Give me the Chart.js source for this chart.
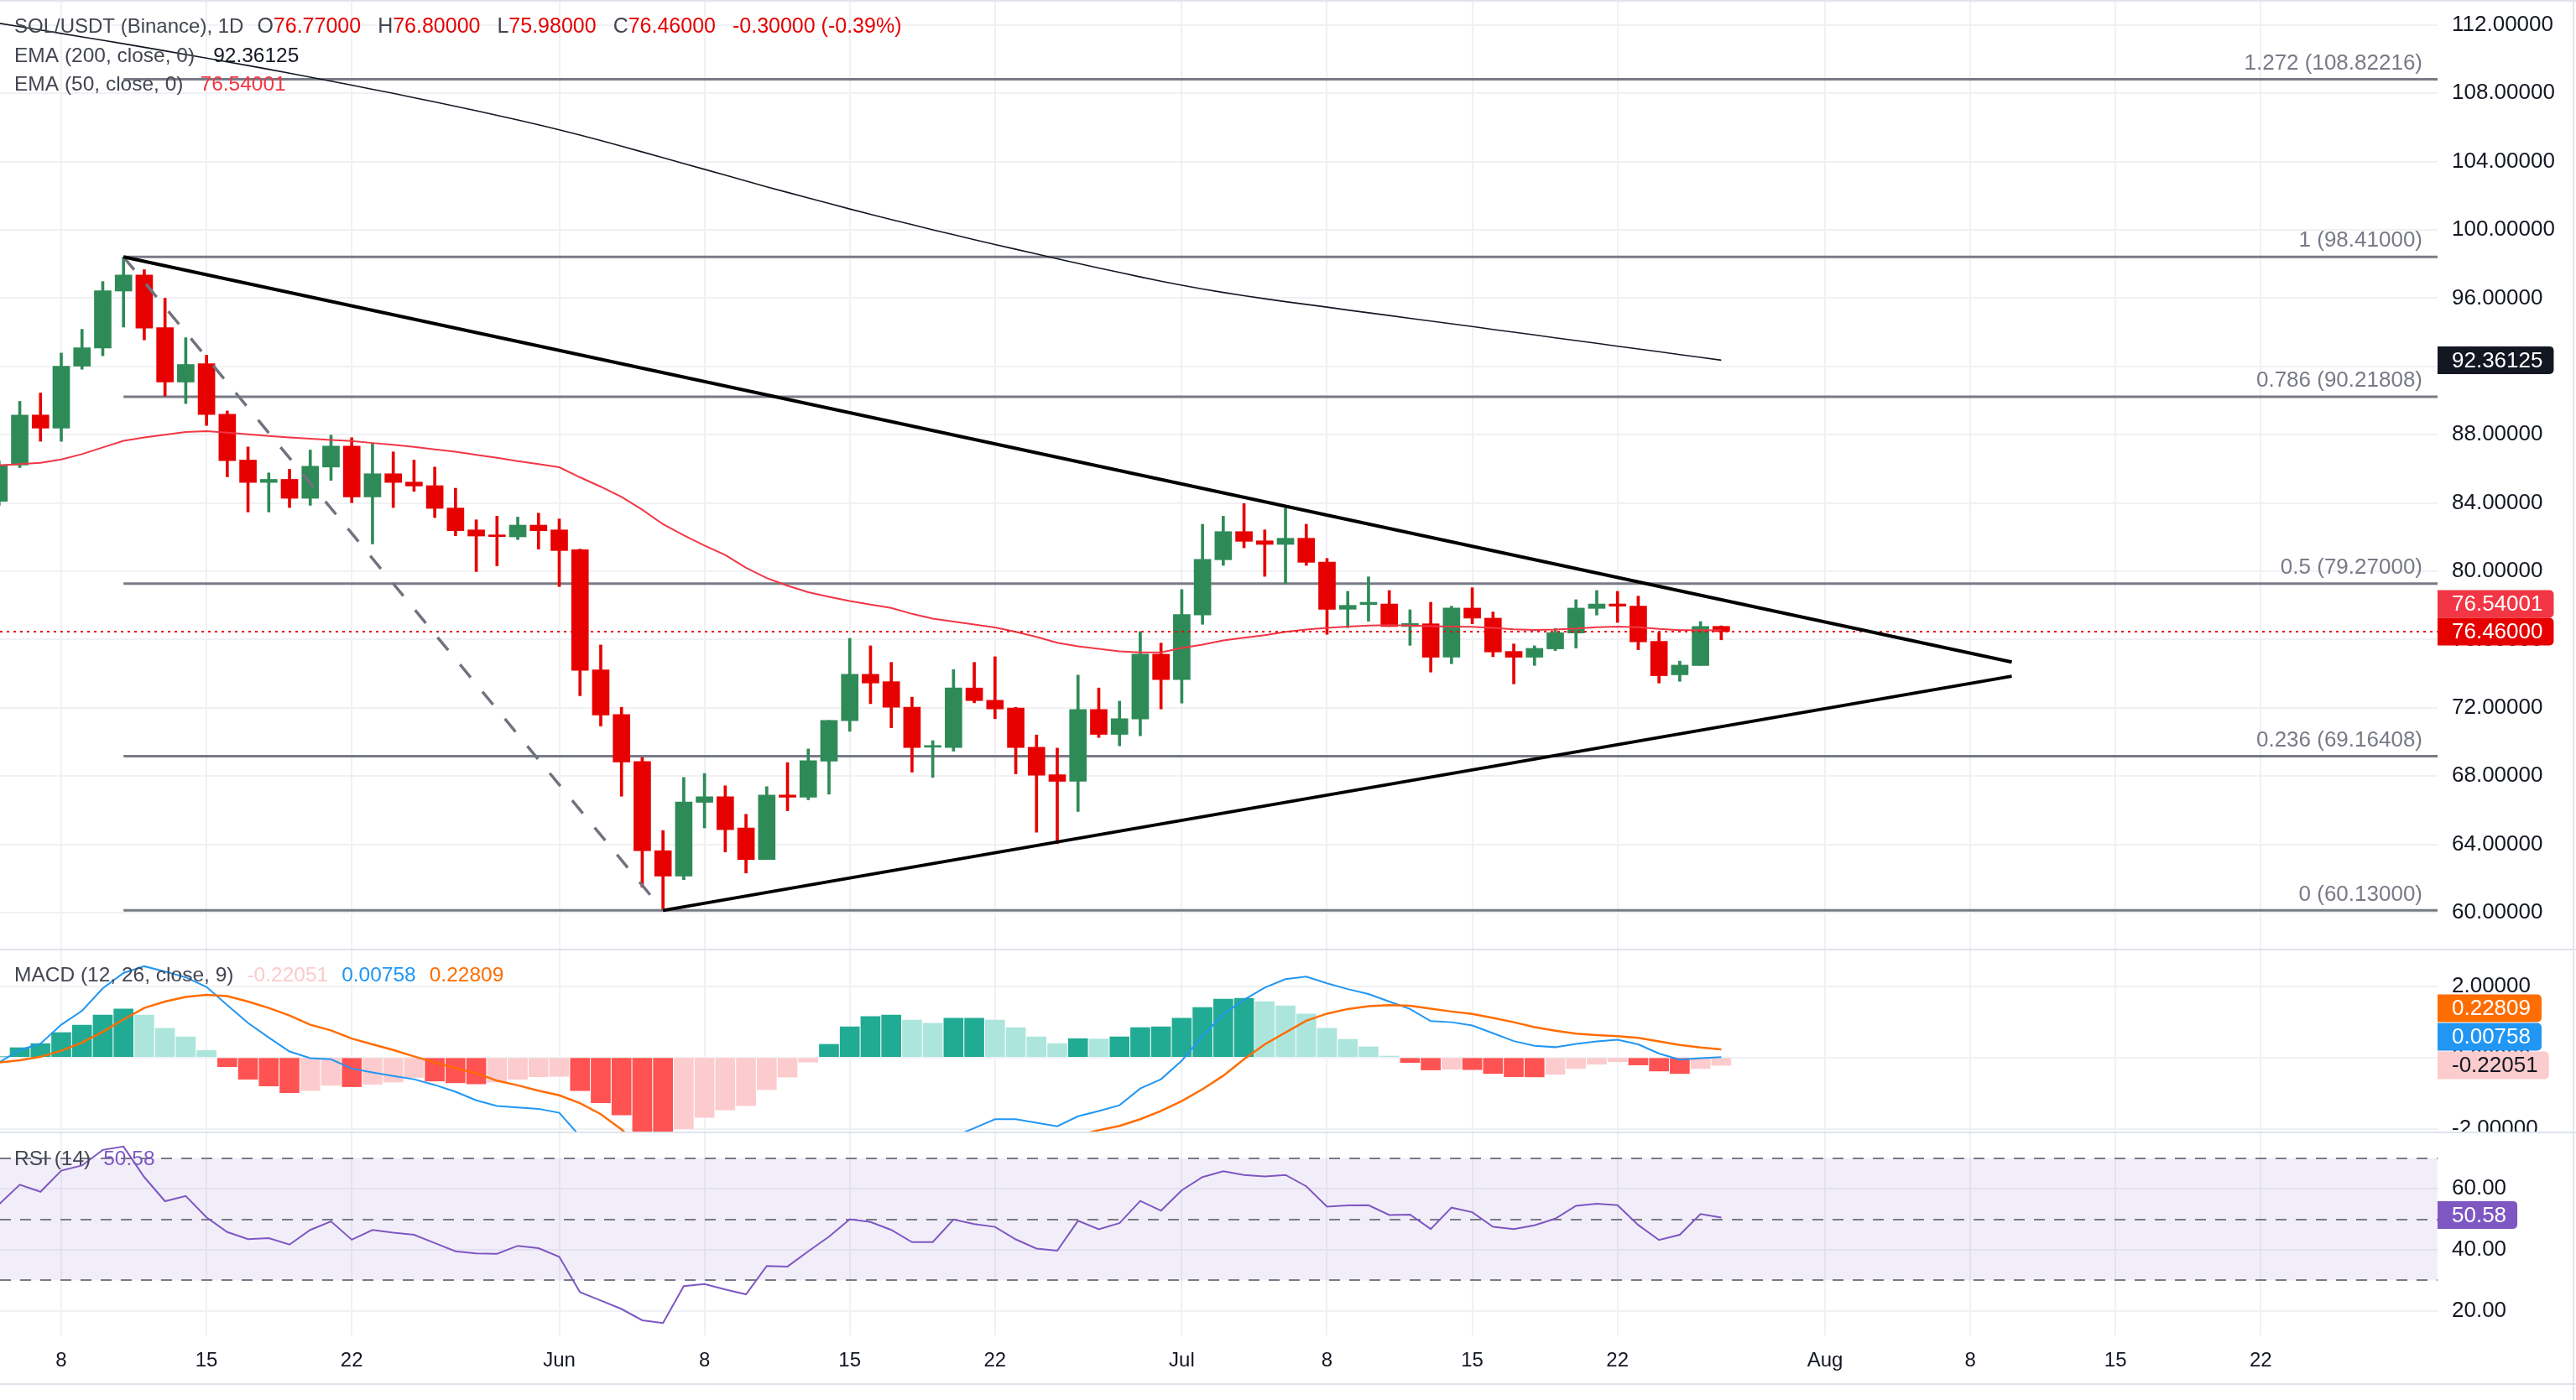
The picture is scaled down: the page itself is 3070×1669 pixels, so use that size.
<!DOCTYPE html>
<html>
<head>
<meta charset="utf-8">
<title>SOL/USDT 1D</title>
<script src="https://cdn.jsdelivr.net/npm/chart.js@4.4.1/dist/chart.umd.min.js"></script>
<style>
  html, body { margin: 0; padding: 0; background: #fff; }
  #wrap { position: relative; width: 3070px; height: 1669px; overflow: hidden; background: #fff; }
  #wrap canvas { position: absolute; left: 0; }
</style>
</head>
<body>
<div id="wrap">
  <canvas id="pricePane" width="3070" height="1131" style="top:0"></canvas>
  <canvas id="macdPane" width="3070" height="218" style="top:1131px"></canvas>
  <canvas id="rsiPane" width="3070" height="320" style="top:1349px"></canvas>
</div>
<script>
// ---- values (May 5 - Jul 27) ----
const dates = [
  '2024-05-05','2024-05-06','2024-05-07','2024-05-08','2024-05-09','2024-05-10','2024-05-11','2024-05-12',
  '2024-05-13','2024-05-14','2024-05-15','2024-05-16','2024-05-17','2024-05-18','2024-05-19','2024-05-20',
  '2024-05-21','2024-05-22','2024-05-23','2024-05-24','2024-05-25','2024-05-26','2024-05-27','2024-05-28',
  '2024-05-29','2024-05-30','2024-05-31','2024-06-01','2024-06-02','2024-06-03','2024-06-04','2024-06-05',
  '2024-06-06','2024-06-07','2024-06-08','2024-06-09','2024-06-10','2024-06-11','2024-06-12','2024-06-13',
  '2024-06-14','2024-06-15','2024-06-16','2024-06-17','2024-06-18','2024-06-19','2024-06-20','2024-06-21',
  '2024-06-22','2024-06-23','2024-06-24','2024-06-25','2024-06-26','2024-06-27','2024-06-28','2024-06-29',
  '2024-06-30','2024-07-01','2024-07-02','2024-07-03','2024-07-04','2024-07-05','2024-07-06','2024-07-07',
  '2024-07-08','2024-07-09','2024-07-10','2024-07-11','2024-07-12','2024-07-13','2024-07-14','2024-07-15',
  '2024-07-16','2024-07-17','2024-07-18','2024-07-19','2024-07-20','2024-07-21','2024-07-22','2024-07-23',
  '2024-07-24','2024-07-25','2024-07-26','2024-07-27'
];
const opens = [
  84.09,86.22,89.15,88.38,92.01,93.07,96.41,97.35,94.27,91.08,92.16,89.20,86.51,85.20,85.38,84.27,
  86.10,87.33,84.35,85.71,85.22,85.01,83.70,82.42,82.11,82.01,82.70,82.42,81.26,74.22,71.60,68.85,
  63.63,62.14,66.46,66.79,64.96,63.11,66.89,66.76,68.87,71.24,73.96,73.53,72.03,69.69,69.67,73.16,
  72.44,71.98,69.69,68.08,67.69,71.90,70.44,71.34,75.14,73.65,77.43,80.67,82.32,81.78,81.57,81.93,
  80.54,77.77,78.05,78.08,76.76,76.92,74.96,77.84,77.25,75.30,74.96,75.45,76.38,77.82,78.08,77.95,
  75.89,73.93,74.48,76.77
];
const highs = [
  86.45,89.95,90.44,92.78,94.17,96.97,98.41,97.66,95.99,93.68,92.65,89.39,87.28,85.76,85.97,87.10,
  87.97,87.82,87.48,86.99,86.51,86.10,84.86,83.01,83.22,83.17,83.40,83.06,81.30,75.68,72.03,69.08,
  64.81,67.92,68.15,67.43,65.76,67.38,68.79,69.59,71.26,76.07,75.63,74.66,72.62,70.08,74.24,74.66,
  74.99,72.03,70.41,69.64,73.91,73.16,72.39,76.46,75.79,78.92,82.75,83.22,83.96,82.42,83.70,82.75,
  80.75,78.82,79.67,78.87,77.74,78.18,77.95,79.03,77.61,75.74,75.63,76.64,78.33,78.87,78.82,78.54,
  76.40,74.73,77.05,76.80
];
const lows = [
  83.85,86.07,87.61,87.61,91.83,92.62,94.30,93.55,90.26,89.82,88.54,85.53,83.47,83.47,83.73,83.86,
  85.32,84.01,81.60,83.73,84.68,83.14,82.08,79.98,80.31,81.85,81.29,79.10,72.70,70.93,66.82,61.49,
  60.13,61.93,64.96,63.55,62.32,63.11,65.97,66.61,66.94,70.62,72.24,70.83,68.23,67.92,69.46,72.29,
  71.36,68.13,64.71,64.04,65.92,70.26,69.77,70.36,71.93,72.27,76.89,80.34,81.37,79.70,79.26,80.34,
  76.30,76.69,77.07,76.76,75.66,74.09,74.58,76.92,74.99,73.40,74.48,75.35,75.50,77.43,77.00,75.40,
  73.45,73.55,74.48,75.98
];
const closes = [
  86.24,89.15,88.38,92.01,93.09,96.43,97.35,94.24,91.08,92.11,89.18,86.48,85.20,85.38,84.27,86.15,
  87.33,84.35,85.71,85.20,84.99,83.68,82.37,82.06,82.03,82.70,82.37,81.21,74.19,71.57,68.82,63.63,
  62.14,66.48,66.79,64.86,63.11,66.89,66.76,68.90,71.26,73.96,73.45,72.03,69.67,69.77,73.16,72.42,
  71.93,69.67,68.05,67.69,71.90,70.44,71.36,75.14,73.65,77.46,80.70,82.32,81.75,81.57,81.93,80.52,
  77.77,78.00,78.18,76.76,76.94,74.96,77.84,77.25,75.27,74.96,75.48,76.40,77.84,78.08,77.95,75.86,
  73.88,74.50,76.76,76.46
];
const ema200 = [
  112.10,111.90,111.70,111.50,111.30,111.10,110.90,110.69,110.48,110.27,110.06,109.84,109.62,109.40,
  109.17,108.94,108.71,108.47,108.23,107.99,107.74,107.49,107.23,106.97,106.70,106.43,106.15,
  105.86,105.55,105.23,104.90,104.56,104.22,103.88,103.54,103.20,102.86,102.52,102.19,101.86,101.54,
  101.22,100.91,100.60,100.30,100.00,99.71,99.42,99.14,98.86,98.58,98.30,98.03,97.76,97.50,97.24,96.99,
  96.75,96.53,96.33,96.14,95.96,95.79,95.63,95.47,95.30,95.14,94.98,94.81,94.65,94.49,94.33,94.16,
  94.00,93.84,93.67,93.51,93.35,93.18,93.02,92.86,92.69,92.53,92.36125
];
const ema50 = [
  86.20,86.28,86.35,86.55,86.86,87.25,87.64,87.84,88.00,88.15,88.20,88.12,88.02,87.92,87.84,87.76,
  87.69,87.63,87.51,87.40,87.28,87.14,87.00,86.82,86.64,86.45,86.27,
  86.09,85.50,84.95,84.35,83.60,82.75,82.10,81.50,80.95,80.20,79.60,79.15,78.77,78.50,78.25,78.05,
  77.85,77.50,77.22,77.05,76.88,76.71,76.45,76.15,75.81,75.60,75.45,75.30,75.25,75.24,
  75.50,75.70,75.94,76.10,76.25,76.45,76.58,76.68,76.75,76.82,76.84,76.82,76.78,76.76,76.74,76.68,
  76.60,76.56,76.58,76.65,76.72,76.76,76.72,76.62,76.55,76.55,76.54001
];
const macdHist = [
  0.02,0.275,0.39,0.70,0.91,1.19,1.36,1.19,0.82,0.58,0.20,-0.26,-0.61,-0.80,-0.99,-0.93,
  -0.78,-0.82,-0.75,-0.69,-0.56,-0.66,-0.71,-0.74,-0.69,-0.61,-0.54,-0.53,-0.93,-1.27,-1.61,-2.20,
  -2.30,-2.00,-1.68,-1.47,-1.35,-0.90,-0.55,-0.13,0.37,0.86,1.15,1.19,1.05,0.96,1.10,1.10,
  1.05,0.84,0.58,0.39,0.53,0.52,0.58,0.84,0.86,1.10,1.40,1.64,1.66,1.57,1.45,1.22,
  0.82,0.51,0.30,0.04,-0.14,-0.35,-0.33,-0.34,-0.45,-0.54,-0.545,-0.47,-0.31,-0.19,-0.12,-0.21,
  -0.38,-0.45,-0.31,-0.22051
];
const macdLine = [
  -0.14,0.21,0.39,0.92,1.31,1.94,2.37,2.56,2.41,2.25,1.98,1.47,0.97,0.56,0.17,-0.02,
  -0.05,-0.31,-0.42,-0.52,-0.61,-0.77,-0.96,-1.20,-1.36,-1.40,-1.44,-1.55,-2.21,-2.86,-3.63,-4.75,
  -5.40,-5.55,-5.63,-5.77,-5.95,-5.70,-5.45,-5.08,-4.51,-3.82,-3.25,-2.91,-2.77,-2.62,-2.22,-1.98,
  -1.73,-1.73,-1.83,-1.93,-1.65,-1.50,-1.34,-0.87,-0.61,-0.09,0.60,1.21,1.62,1.96,2.20,2.27,
  2.08,1.92,1.78,1.57,1.36,1.02,0.99,0.90,0.68,0.46,0.33,0.29,0.38,0.45,0.50,0.37,
  0.11,-0.06,-0.02,0.00758
];
const macdSignal = [
  -0.14,-0.08,0.02,0.19,0.42,0.72,1.07,1.39,1.57,1.70,1.76,1.72,1.57,1.39,1.18,0.92,
  0.76,0.53,0.37,0.21,0.03,-0.14,-0.30,-0.44,-0.65,-0.78,-0.93,-1.06,-1.28,-1.59,-2.02,-2.55,
  -3.10,-3.55,-3.95,-4.30,-4.60,-4.80,-4.90,-4.95,-4.88,-4.68,-4.40,-4.10,-3.82,-3.58,-3.32,-3.06,
  -2.78,-2.57,-2.41,-2.32,-2.18,-2.04,-1.92,-1.73,-1.50,-1.22,-0.89,-0.51,-0.05,0.37,0.70,1.03,
  1.23,1.36,1.44,1.47,1.45,1.37,1.29,1.22,1.11,0.99,0.85,0.75,0.67,0.63,0.60,0.55,
  0.45,0.35,0.28,0.22809
];
const rsi14 = [
  54.9,61.3,59.0,65.9,67.6,72.7,73.8,63.8,55.9,57.6,50.6,45.8,43.5,43.8,41.7,46.5,
  49.3,43.3,46.5,45.6,44.9,42.2,39.5,38.8,38.7,41.3,40.5,37.7,26.1,23.4,20.6,16.9,
  16.0,28.1,28.8,27.0,25.4,34.7,34.5,39.5,44.3,50.0,49.1,46.5,42.5,42.5,49.9,48.4,
  47.5,43.4,40.4,39.7,49.5,46.7,48.7,56.0,52.8,59.5,63.8,65.7,64.5,64.0,64.5,60.8,
  54.1,54.5,54.6,51.4,51.5,46.8,53.8,52.3,47.5,46.8,48.0,50.2,54.4,55.1,54.6,48.1,
  43.2,44.9,51.7,50.58
];

// fibonacci retracement drawn from the May 11 high to the Jun 6 low
const fibRatios = [1.272, 1, 0.786, 0.5, 0.236, 0];
const fibPrices = [108.82216, 98.41, 90.21808, 79.27, 69.16408, 60.13];
const fibSwing = [['2024-05-11', 98.41], ['2024-06-06', 60.13]];
// symmetrical triangle
const upperTrend = [['2024-05-11', 98.41], ['2024-08-10', 74.68]];
const lowerTrend = [['2024-06-06', 60.13], ['2024-08-10', 73.85]];

// axis ticks
const priceTicks = [60, 64, 68, 72, 76, 80, 84, 88, 92, 96, 100, 104, 108, 112];
const macdTicks = [-2, 0, 2];
const rsiTicks = [20, 40, 60];
const rsiBands = [70, 50, 30];
const xTickDates = ['2024-05-08','2024-05-15','2024-05-22','2024-06-01','2024-06-08','2024-06-15','2024-06-22',
  '2024-07-01','2024-07-08','2024-07-15','2024-07-22','2024-08-01','2024-08-08','2024-08-15','2024-08-22'];
const xTickLabels = ['8','15','22','Jun','8','15','22','Jul','8','15','22','Aug','8','15','22'];

// ---- styling ----
const FONT = "'Liberation Sans', Arial, sans-serif";
const UP = '#2E8B57', DOWN = '#E60000';
const EMA50_C = '#F23645', EMA200_C = '#131722';
const FIB_C = '#787B86', GRID = '#F0F1F4', SEP = '#E0E3EB';
const TEXT = '#131722', LEGEND = '#434651';
const X_MIN = -2.952, X_MAX = 114.52;   // visible window, days from May 8
const AXIS_W = 165;

function dayNum(iso) {
  const [y, m, d] = iso.split('-').map(Number);
  return (Date.UTC(y, m - 1, d) - Date.UTC(2024, 4, 8)) / 86400000;
}
const xs = dates.map(dayNum);
const last = dates.length - 1;

function xAxis(showLabels) {
  return {
    type: 'linear', min: X_MIN, max: X_MAX, offset: false,
    grid: { color: GRID, lineWidth: 2, drawTicks: false, offset: false },
    border: { display: false },
    afterBuildTicks: s => { s.ticks = xTickDates.map(d => ({ value: dayNum(d) })); },
    afterFit: s => { s.height = showLabels ? 77 : 0; s.paddingLeft = 0; s.paddingRight = 0; },
    ticks: {
      display: showLabels, autoSkip: false, maxRotation: 0, padding: 16, color: TEXT,
      font: { family: FONT, size: 24 },
      callback: (v, i) => xTickLabels[i]
    }
  };
}
function yAxis(min, max, ticks, digits) {
  return {
    type: 'linear', position: 'right', min, max, beginAtZero: false,
    grid: { color: GRID, lineWidth: 2, drawTicks: false },
    border: { display: false },
    afterBuildTicks: s => { s.ticks = ticks.map(v => ({ value: v })); },
    afterFit: s => { s.width = AXIS_W; s.paddingTop = 0; s.paddingBottom = 0; },
    ticks: { padding: 17, color: TEXT, font: { family: FONT, size: 26 }, callback: v => v.toFixed(digits) }
  };
}
function baseOptions(scales) {
  return {
    responsive: false, animation: false, devicePixelRatio: 1,
    layout: { padding: 0 },
    plugins: { legend: { display: false }, tooltip: { enabled: false } },
    events: [],
    scales
  };
}
function lineSet(points, color, width, order, dash) {
  return { type: 'line', data: points, borderColor: color, borderWidth: width, borderDash: dash || [],
    pointRadius: 0, tension: 0, fill: false, order };
}
function segment(pair) { return pair.map(([d, p]) => ({ x: dayNum(d), y: p })); }

function axisBox(ctx, x, y, text, bg, fg) {
  ctx.font = `26px ${FONT}`;
  const w = ctx.measureText(text).width + 30;
  ctx.fillStyle = bg;
  ctx.beginPath();
  ctx.roundRect(x, y - 16.5, w, 33, [0, 5, 5, 0]);
  ctx.fill();
  ctx.fillStyle = fg;
  ctx.textAlign = 'left';
  ctx.textBaseline = 'middle';
  ctx.fillText(text, x + 17, y + 1);
}
// draws coloured text runs left to right, returns the x where the row ends
function legendRow(ctx, x, y, segs, size) {
  ctx.font = `${size || 24.5}px ${FONT}`;
  ctx.textAlign = 'left';
  ctx.textBaseline = 'middle';
  for (const [t, c, gap] of segs) {
    ctx.fillStyle = c;
    ctx.fillText(t, x, y);
    x += ctx.measureText(t).width + (gap || 0);
  }
  return x;
}
function frame(ctx, chart, top, bottom) {
  ctx.fillStyle = SEP;
  ctx.fillRect(chart.width - 4, 0, 2, chart.height);
  if (top) ctx.fillRect(0, 0, chart.width, 2);
  if (bottom !== undefined) ctx.fillRect(0, bottom, chart.width, 2);
}

// ---- price pane ----
const candleColor = c => closes[c.dataIndex] >= opens[c.dataIndex] ? UP : DOWN;
const priceSets = [
  lineSet(segment(upperTrend), '#000', 4, 1),
  lineSet(segment(lowerTrend), '#000', 4, 1),
  lineSet(segment(fibSwing), '#70737E', 3.5, 2, [20, 22]),
  lineSet([{ x: X_MIN, y: closes[last] }, { x: X_MAX, y: closes[last] }], DOWN, 2, 3, [3, 5]),
  lineSet(xs.map((x, i) => ({ x, y: ema50[i] })), EMA50_C, 2, 4),
  lineSet(xs.map((x, i) => ({ x, y: ema200[i] })), EMA200_C, 1.6, 4),
  { type: 'bar', data: xs.map((x, i) => ({ x, y: [opens[i], closes[i]] })), backgroundColor: candleColor,
    barThickness: 20, minBarLength: 2, grouped: false, borderWidth: 0, order: 5 },
  { type: 'bar', data: xs.map((x, i) => ({ x, y: [lows[i], highs[i]] })), backgroundColor: candleColor,
    barThickness: 3, grouped: false, borderWidth: 0, order: 6 }
];
fibPrices.forEach(p => priceSets.push(lineSet([{ x: dayNum(fibSwing[0][0]), y: p }, { x: X_MAX, y: p }], FIB_C, 3, 7)));

const priceOverlay = {
  id: 'priceOverlay',
  afterDraw(chart) {
    const { ctx, chartArea, scales: { y } } = chart;
    ctx.save();
    ctx.font = `26px ${FONT}`;
    ctx.fillStyle = FIB_C;
    ctx.textAlign = 'right';
    ctx.textBaseline = 'middle';
    fibPrices.forEach((p, i) => ctx.fillText(`${fibRatios[i]} (${p.toFixed(5)})`, chartArea.right - 18, y.getPixelForValue(p) - 19));

    const yClose = y.getPixelForValue(closes[last]);
    let yEma50 = y.getPixelForValue(ema50[last]);
    if (Math.abs(yEma50 - yClose) < 33) yEma50 = yClose - 33;
    axisBox(ctx, chartArea.right, y.getPixelForValue(ema200[last]), ema200[last].toFixed(5), EMA200_C, '#fff');
    axisBox(ctx, chartArea.right, yEma50, ema50[last].toFixed(5), EMA50_C, '#fff');
    axisBox(ctx, chartArea.right, yClose, closes[last].toFixed(5), DOWN, '#fff');

    const chg = closes[last] - closes[last - 1];
    const vc = closes[last] >= opens[last] ? UP : DOWN;
    const afterTitle = legendRow(ctx, 17, 32, [['SOL/USDT (Binance), 1D', LEGEND, 16]], 24);
    legendRow(ctx, afterTitle, 32, [
      ['O', LEGEND], [opens[last].toFixed(5), vc, 20],
      ['H', LEGEND], [highs[last].toFixed(5), vc, 20],
      ['L', LEGEND], [lows[last].toFixed(5), vc, 20],
      ['C', LEGEND], [closes[last].toFixed(5), vc, 20],
      [`${chg.toFixed(5)} (${(chg / closes[last - 1] * 100).toFixed(2)}%)`, vc]
    ], 25);
    legendRow(ctx, 17, 67, [['EMA (200, close, 0)', LEGEND, 22], [ema200[last].toFixed(5), EMA200_C]]);
    legendRow(ctx, 17, 101, [['EMA (50, close, 0)', LEGEND, 20], [ema50[last].toFixed(5), EMA50_C]]);
    frame(ctx, chart, true);
    ctx.restore();
  }
};

new Chart(document.getElementById('pricePane'), {
  type: 'line',
  data: { datasets: priceSets },
  options: baseOptions({ x: xAxis(false), y: yAxis(57.887, 113.46, priceTicks, 5) }),
  plugins: [priceOverlay]
});

// ---- MACD pane ----
const histColor = c => {
  const i = c.dataIndex, v = macdHist[i], p = i > 0 ? macdHist[i - 1] : 0;
  return v >= 0 ? (v >= p ? '#22AB94' : '#ACE5DC') : (v <= p ? '#FF5252' : '#FCCBCD');
};
const macdOverlay = {
  id: 'macdOverlay',
  afterDraw(chart) {
    const { ctx, chartArea, scales: { y } } = chart;
    ctx.save();
    const boxes = [
      { v: macdSignal[last], bg: '#FF6D00', fg: '#fff' },
      { v: macdLine[last], bg: '#2196F3', fg: '#fff' },
      { v: macdHist[last], bg: '#FCCBCD', fg: TEXT }
    ].map(b => ({ ...b, y: y.getPixelForValue(b.v) })).sort((a, b) => b.y - a.y);
    let prev = Infinity;
    boxes.forEach(b => {
      b.y = Math.min(b.y, prev - 34);
      prev = b.y;
      axisBox(ctx, chartArea.right, b.y, b.v.toFixed(5), b.bg, b.fg);
    });
    legendRow(ctx, 17, 32, [
      ['MACD (12, 26, close, 9)', LEGEND, 16],
      [macdHist[last].toFixed(5), '#FCCBCD', 16],
      [macdLine[last].toFixed(5), '#2196F3', 16],
      [macdSignal[last].toFixed(5), '#FF6D00']
    ]);
    frame(ctx, chart, true);
    ctx.restore();
  }
};
new Chart(document.getElementById('macdPane'), {
  type: 'line',
  data: {
    datasets: [
      lineSet(xs.map((x, i) => ({ x, y: macdSignal[i] })), '#FF6D00', 2.5, 1),
      lineSet(xs.map((x, i) => ({ x, y: macdLine[i] })), '#2196F3', 2, 2),
      { type: 'bar', data: xs.map((x, i) => ({ x, y: macdHist[i] })), backgroundColor: histColor,
        barThickness: 23, grouped: false, borderWidth: 0, order: 3 }
    ]
  },
  options: baseOptions({ x: xAxis(false), y: yAxis(-2.078, 3.052, macdTicks, 5) }),
  plugins: [macdOverlay]
});

// ---- RSI pane ----
const rsiOverlay = {
  id: 'rsiOverlay',
  beforeDatasetsDraw(chart) {
    const { ctx, chartArea, scales: { y } } = chart;
    ctx.save();
    const yTop = y.getPixelForValue(rsiBands[0]), yBot = y.getPixelForValue(rsiBands[2]);
    ctx.fillStyle = 'rgba(126,87,194,0.1)';
    ctx.fillRect(chartArea.left, yTop, chartArea.right - chartArea.left, yBot - yTop);
    ctx.strokeStyle = FIB_C;
    ctx.lineWidth = 2;
    ctx.setLineDash([13, 11]);
    rsiBands.forEach(v => {
      const py = Math.round(y.getPixelForValue(v));
      ctx.beginPath();
      ctx.moveTo(chartArea.left, py);
      ctx.lineTo(chartArea.right, py);
      ctx.stroke();
    });
    ctx.restore();
  },
  afterDraw(chart) {
    const { ctx, chartArea, scales: { y } } = chart;
    ctx.save();
    axisBox(ctx, chartArea.right, y.getPixelForValue(rsi14[last]) - 3, rsi14[last].toFixed(2), '#7E57C2', '#fff');
    legendRow(ctx, 17, 33, [['RSI (14)', LEGEND, 15], [rsi14[last].toFixed(2), '#7E57C2']]);
    frame(ctx, chart, true, 300);
    ctx.restore();
  }
};
new Chart(document.getElementById('rsiPane'), {
  type: 'line',
  data: { datasets: [lineSet(xs.map((x, i) => ({ x, y: rsi14[i] })), '#7E57C2', 2, 1)] },
  options: baseOptions({ x: xAxis(true), y: yAxis(11.95, 78.71, rsiTicks, 2) }),
  plugins: [rsiOverlay]
});
</script>
</body>
</html>
